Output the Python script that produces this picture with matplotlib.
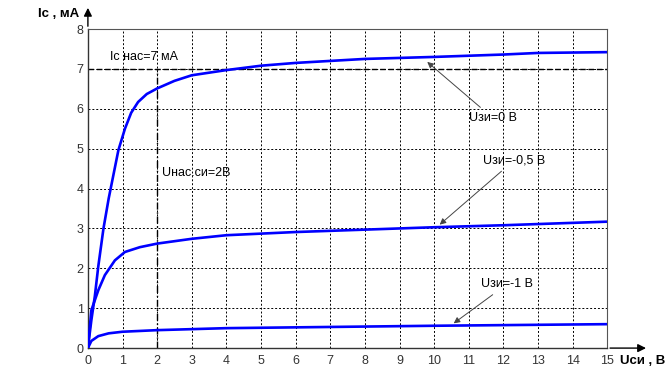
import numpy as np
import matplotlib
matplotlib.use("Agg")
import matplotlib.pyplot as plt

plt.rcParams['font.family'] = ['Liberation Sans', 'DejaVu Sans']

# Uзи = 0 В
u0_x = [0, 0.1, 0.2, 0.3, 0.45, 0.6, 0.88, 1.07, 1.25, 1.45, 1.7, 2.0, 2.5, 3.0, 4.0, 5.0, 6.0, 7.0, 8.0, 10.0, 12.0, 13.0, 15.0]
u0_y = [0, 0.7, 1.3, 2.05, 3.0, 3.75, 4.96, 5.5, 5.9, 6.17, 6.37, 6.51, 6.7, 6.84, 6.97, 7.08, 7.15, 7.2, 7.25, 7.3, 7.36, 7.4, 7.42]
# Uзи = -0,5 В
u05_x = [0, 0.1, 0.3, 0.49, 0.78, 1.07, 1.5, 2.0, 3.0, 4.0, 6.0, 8.0, 10.0, 12.0, 15.0]
u05_y = [0, 0.95, 1.45, 1.83, 2.2, 2.41, 2.53, 2.62, 2.74, 2.83, 2.91, 2.97, 3.03, 3.08, 3.17]
# Uзи = -1 В
u1_x = [0, 0.1, 0.3, 0.6, 1.0, 2.0, 4.0, 7.0, 10.0, 15.0]
u1_y = [0, 0.18, 0.3, 0.37, 0.41, 0.45, 0.5, 0.53, 0.56, 0.6]

x_ticks = list(range(0, 16))
y_ticks = list(range(0, 9))

fig = plt.figure(figsize=(6.71, 3.92), dpi=100)
ax = fig.add_axes([0.131, 0.112, 0.774, 0.814])

ax.set_xlim(0, 15)
ax.set_ylim(0, 8)
ax.set_xticks(x_ticks)
ax.set_yticks(y_ticks)
ax.tick_params(length=0, labelsize=9, labelcolor='#333333')
ax.tick_params(axis='x', pad=5)
ax.tick_params(axis='y', pad=3)
ax.grid(True, linestyle=(0, (2, 2)), color='black', linewidth=0.7)

for s in ['top', 'right']:
    ax.spines[s].set_color('#555555')
    ax.spines[s].set_linewidth(0.8)
for s in ['left', 'bottom']:
    ax.spines[s].set_color('#333333')
    ax.spines[s].set_linewidth(1.0)

blue = '#0000ff'
ax.plot(u0_x, u0_y, color=blue, lw=1.9, zorder=3)
ax.plot(u05_x, u05_y, color=blue, lw=1.9, zorder=3)
ax.plot(u1_x, u1_y, color=blue, lw=1.9, zorder=3)

# saturation lines
ax.plot([0, 15], [7, 7], color='black', lw=1.0, ls=(0, (4, 2)), zorder=2)
ax.plot([2, 2], [0, 7], color='black', lw=1.0, ls=(0, (5, 2, 1, 2)), zorder=2)

ax.text(0.64, 7.3, 'Ic нас=7 мА', fontsize=9, va='center')
ax.text(2.14, 4.4, 'Uнас.си=2В', fontsize=9, va='center')

arrow = dict(arrowstyle='-|>', color='#444444', lw=0.7, mutation_scale=9)
ax.annotate('Uзи=0 В', xy=(9.74, 7.22), xytext=(11.0, 5.77), fontsize=9,
            va='center', arrowprops=arrow)
ax.annotate('Uзи=-0,5 В', xy=(10.1, 3.05), xytext=(11.4, 4.7), fontsize=9,
            va='center', arrowprops=arrow)
ax.annotate('Uзи=-1 В', xy=(10.5, 0.58), xytext=(11.35, 1.6), fontsize=9,
            va='center', arrowprops=arrow)

# axis arrows
ax.annotate('', xy=(0, 1.075), xytext=(0, 1.0), xycoords='axes fraction',
            arrowprops=dict(arrowstyle='-|>', color='black', lw=1.0, mutation_scale=12))
ax.annotate('', xy=(1.08, 0), xytext=(1.0, 0), xycoords='axes fraction',
            arrowprops=dict(arrowstyle='-|>', color='black', lw=1.0, mutation_scale=12))

fig.text(38 / 671, 1 - 14 / 392, 'Ic , мА', fontsize=9.5, fontweight='bold', va='center')
fig.text(620 / 671, 1 - 361 / 392, 'Uси , В', fontsize=9.5, fontweight='bold', va='center')

fig.savefig('out.png', dpi=100)
